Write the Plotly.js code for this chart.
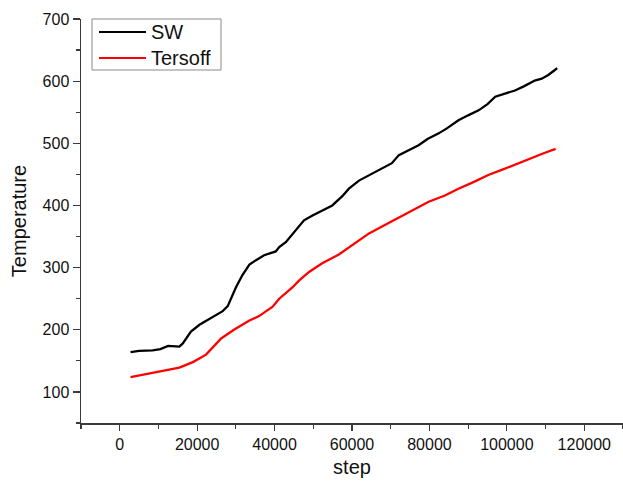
<!DOCTYPE html>
<html>
<head>
<meta charset="utf-8">
<script src="https://cdn.plot.ly/plotly-3.0.1.min.js"></script>
<style>
  html, body { margin: 0; padding: 0; background: #fff; }
  #chart { width: 623px; height: 482px; }
</style>
</head>
<body>
<div id="chart"></div>
<script>
// Temperature vs. simulation step for two interatomic potentials
const swStep = [2800, 5000, 8500, 10500, 12500, 15400, 16300, 18400, 20600, 23200,
  26600, 27900, 30000, 31700, 33500, 35200, 37300, 40300, 41200, 42900,
  45000, 46300, 47600, 49800, 52000, 54900, 57500, 59200, 61800, 64500,
  66900, 70300, 72100, 74500, 77200, 79500, 82400, 84500, 87500, 90000,
  92700, 95000, 97000, 99500, 102100, 104500, 107200, 109000, 110700, 112400, 113000];
const swTemp = [164, 166, 167, 169, 174, 173, 178, 197, 208, 218,
  230, 238, 268, 288, 305, 312, 320, 326, 333, 341,
  357, 368, 376, 384, 391, 400, 415, 427, 440, 449,
  457, 468, 481, 489, 497, 507, 516, 524, 537, 545,
  553, 563, 575, 580, 585, 592, 601, 604, 610, 618, 621];

const tersoffStep = [2800, 6900, 11100, 15400, 18900, 22300, 26200, 29500, 33500, 36000,
  39500, 41200, 44600, 46300, 48900, 52300, 56600, 60500, 64400, 68000,
  71600, 75500, 79800, 84000, 87500, 91500, 95200, 99000, 102500, 106000,
  109500, 112600];
const tersoffTemp = [124, 129, 134, 139, 148, 160, 186, 200, 215, 222,
  237, 250, 268, 279, 293, 307, 321, 338, 355, 367,
  379, 393, 406, 416, 427, 438, 449, 458, 467, 476,
  484, 491];

const seriesNames = ['SW', 'Tersoff'];
const seriesColors = ['#000000', '#ff0000'];
const xTickVals = [0, 20000, 40000, 60000, 80000, 100000, 120000];
const yTickVals = [100, 200, 300, 400, 500, 600, 700];

const FONT = 'Liberation Sans, Arial, sans-serif';
const AXIS_COLOR = '#3a3a3a';
const W = 623, H = 482;
const M = { l: 81, r: 0, t: 19, b: 59 };

// pixel -> paper helpers for the boxed legend
const plotW = W - M.l - M.r, plotH = H - M.t - M.b;
const px = x => (x - M.l) / plotW;
const py = y => (H - M.b - y) / plotH;

const traces = [
  { x: swStep, y: swTemp, name: seriesNames[0], mode: 'lines',
    line: { color: seriesColors[0], width: 2.3 } },
  { x: tersoffStep, y: tersoffTemp, name: seriesNames[1], mode: 'lines',
    line: { color: seriesColors[1], width: 2.3 } }
];

// compact framed legend in the upper-left corner
const legendBox = { x0: 92, x1: 221, y0: 19, y1: 70 };
const legendRows = [32, 58];
const shapes = [
  { type: 'rect', xref: 'paper', yref: 'paper',
    x0: px(legendBox.x0), x1: px(legendBox.x1), y0: py(legendBox.y1), y1: py(legendBox.y0),
    line: { color: '#8a8a8a', width: 1 }, fillcolor: '#ffffff', layer: 'above' }
];
const annotations = [];
seriesNames.forEach((name, i) => {
  shapes.push({ type: 'line', xref: 'paper', yref: 'paper',
    x0: px(99), x1: px(146), y0: py(legendRows[i]), y1: py(legendRows[i]),
    line: { color: seriesColors[i], width: 2 }, layer: 'above' });
  annotations.push({ xref: 'paper', yref: 'paper', x: px(149), y: py(legendRows[i]),
    xanchor: 'left', yanchor: 'middle', showarrow: false, text: name,
    font: { family: FONT, size: 20, color: '#111111' } });
});

const layout = {
  width: W, height: H,
  margin: M,
  paper_bgcolor: '#ffffff', plot_bgcolor: '#ffffff',
  font: { family: FONT, color: '#111111' },
  showlegend: false,
  shapes: shapes,
  annotations: annotations,
  xaxis: {
    range: [-10000, 130000],
    tickmode: 'array', tickvals: xTickVals, tickformat: 'd',
    ticks: 'outside', ticklen: 6, tickwidth: 1.2, tickcolor: AXIS_COLOR,
    minor: { dtick: 10000, tick0: 0, ticks: 'outside', ticklen: 4, tickwidth: 1.2, tickcolor: AXIS_COLOR, showgrid: false },
    showline: true, linecolor: AXIS_COLOR, linewidth: 1.5,
    showgrid: false, zeroline: false,
    tickfont: { family: FONT, size: 16, color: '#111111' },
    title: { text: 'step', font: { family: FONT, size: 20, color: '#111111' }, standoff: 8 }
  },
  yaxis: {
    range: [50, 700],
    tickmode: 'array', tickvals: yTickVals,
    ticks: 'outside', ticklen: 7, tickwidth: 1.2, tickcolor: AXIS_COLOR,
    minor: { dtick: 50, tick0: 0, ticks: 'outside', ticklen: 4, tickwidth: 1.2, tickcolor: AXIS_COLOR, showgrid: false },
    showline: true, linecolor: AXIS_COLOR, linewidth: 1.5,
    showgrid: false, zeroline: false,
    tickfont: { family: FONT, size: 16, color: '#111111' },
    title: { text: 'Temperature', font: { family: FONT, size: 20, color: '#111111' }, standoff: 10 }
  }
};

Plotly.newPlot('chart', traces, layout, { staticPlot: true, displayModeBar: false });
</script>
</body>
</html>
